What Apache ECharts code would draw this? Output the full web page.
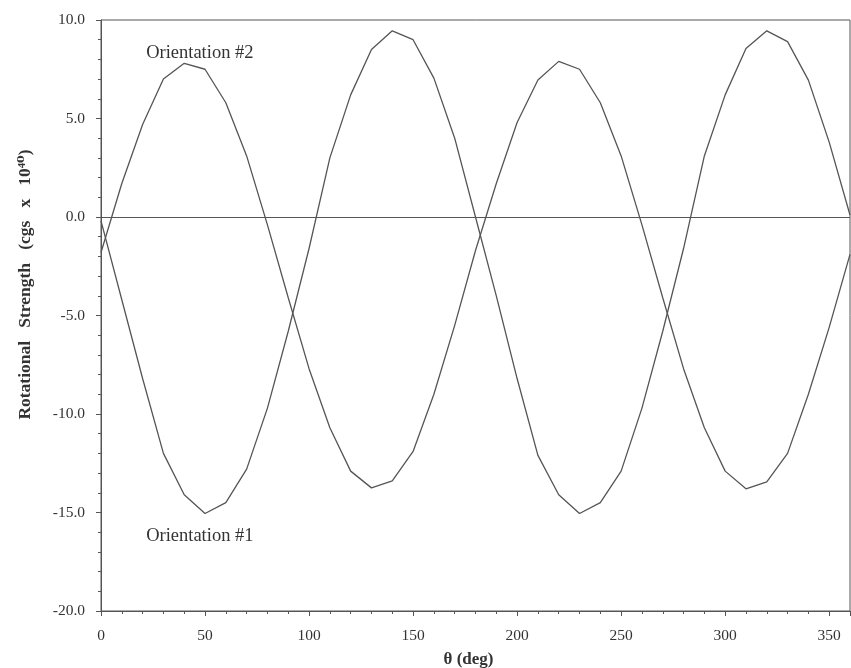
<!DOCTYPE html>
<html>
<head>
<meta charset="utf-8">
<script src="https://cdn.jsdelivr.net/npm/echarts@6/dist/echarts.min.js"></script>
<style>
  html, body { margin: 0; padding: 0; background: #fff; }
  #chart { width: 851px; height: 668px; }
</style>
</head>
<body>
<div id="chart"></div>
<script>
// angle of rotation, every 10 deg
const theta = [0, 10, 20, 30, 40, 50, 60, 70, 80, 90, 100, 110, 120, 130, 140, 150, 160, 170, 180,
  190, 200, 210, 220, 230, 240, 250, 260, 270, 280, 290, 300, 310, 320, 330, 340, 350, 360]

// rotational strength (cgs x 10^40)
const orientation1 = [-0.2, -4.2, -8.2, -12.0, -14.1, -15.05, -14.5, -12.8, -9.7, -5.8, -1.6, 3.0, 6.2, 8.5, 9.45, 9.0, 7.05, 4.0, 0.0,
  -4.0, -8.2, -12.1, -14.1, -15.05, -14.5, -12.9, -9.7, -5.8, -1.6, 3.1, 6.2, 8.55, 9.45, 8.9, 6.95, 3.8, 0.1]
const orientation2 = [-1.8, 1.7, 4.7, 7.0, 7.8, 7.5, 5.8, 3.1, -0.4, -4.1, -7.7, -10.7, -12.9, -13.75, -13.4, -11.9, -9.0, -5.5, -1.7,
  1.7, 4.8, 6.95, 7.9, 7.5, 5.8, 3.1, -0.4, -4.1, -7.7, -10.7, -12.9, -13.8, -13.45, -12.0, -9.0, -5.6, -1.9]

// where the curve names sit, in data units
const label1 = [47.5, -16.2]
const label2 = [47.5, 8.3]

const serif = "'Liberation Serif', 'DejaVu Serif', serif"
const ink = '#555'

const chart = echarts.init(document.getElementById('chart'))

const pairs = ys => theta.map((t, i) => [t, ys[i]])

chart.setOption({
  animation: false,
  grid: {
    left: 101, right: 1, top: 20, bottom: 57,
    outerBoundsMode: 'none',
    show: true, borderColor: ink, borderWidth: 1
  },
  xAxis: {
    type: 'value',
    min: 0, max: 360, interval: 50,
    name: 'θ (deg)',
    nameLocation: 'middle',
    nameGap: 40,
    nameTextStyle: { fontFamily: serif, fontSize: 17, fontWeight: 'bold', color: '#333', padding: [0, 14, 0, 0] },
    axisLine: { onZero: false, lineStyle: { color: ink, width: 1 } },
    axisTick: { length: 5, lineStyle: { color: ink } },
    minorTick: { show: true, splitNumber: 5, length: 3, lineStyle: { color: ink } },
    axisLabel: { fontFamily: serif, fontSize: 15.5, color: '#333', margin: 17, showMaxLabel: false },
    splitLine: { show: false }
  },
  yAxis: {
    type: 'value',
    min: -20, max: 10, interval: 5,
    name: 'Rotational   Strength   (cgs   x   10⁴⁰)',
    nameLocation: 'middle',
    nameGap: 67,
    nameRotate: 90,
    nameTextStyle: { fontFamily: serif, fontSize: 17.5, fontWeight: 'bold', color: '#333', padding: [0, 0, 0, 62] },
    axisLine: { lineStyle: { color: ink, width: 1 } },
    axisTick: { length: 5, lineStyle: { color: ink } },
    minorTick: { show: true, splitNumber: 5, length: 3, lineStyle: { color: ink } },
    axisLabel: { fontFamily: serif, fontSize: 15.5, color: '#333', margin: 16, formatter: v => v.toFixed(1) },
    splitLine: { show: false }
  },
  series: [
    {
      name: 'Orientation #1',
      type: 'line',
      data: pairs(orientation1),
      symbol: 'none',
      lineStyle: { color: ink, width: 1.3 },
      markLine: {
        silent: true,
        symbol: 'none',
        label: { show: false },
        lineStyle: { color: ink, width: 1, type: 'solid' },
        data: [{ yAxis: 0 }]
      },
      markPoint: {
        symbolSize: 0,
        label: { show: true, position: 'inside', formatter: 'Orientation #1', fontFamily: serif, fontSize: 18.5, color: '#333' },
        data: [{ coord: label1 }]
      }
    },
    {
      name: 'Orientation #2',
      type: 'line',
      data: pairs(orientation2),
      symbol: 'none',
      lineStyle: { color: ink, width: 1.3 },
      markPoint: {
        symbolSize: 0,
        label: { show: true, position: 'inside', formatter: 'Orientation #2', fontFamily: serif, fontSize: 18.5, color: '#333' },
        data: [{ coord: label2 }]
      }
    }
  ]
})
</script>
</body>
</html>
